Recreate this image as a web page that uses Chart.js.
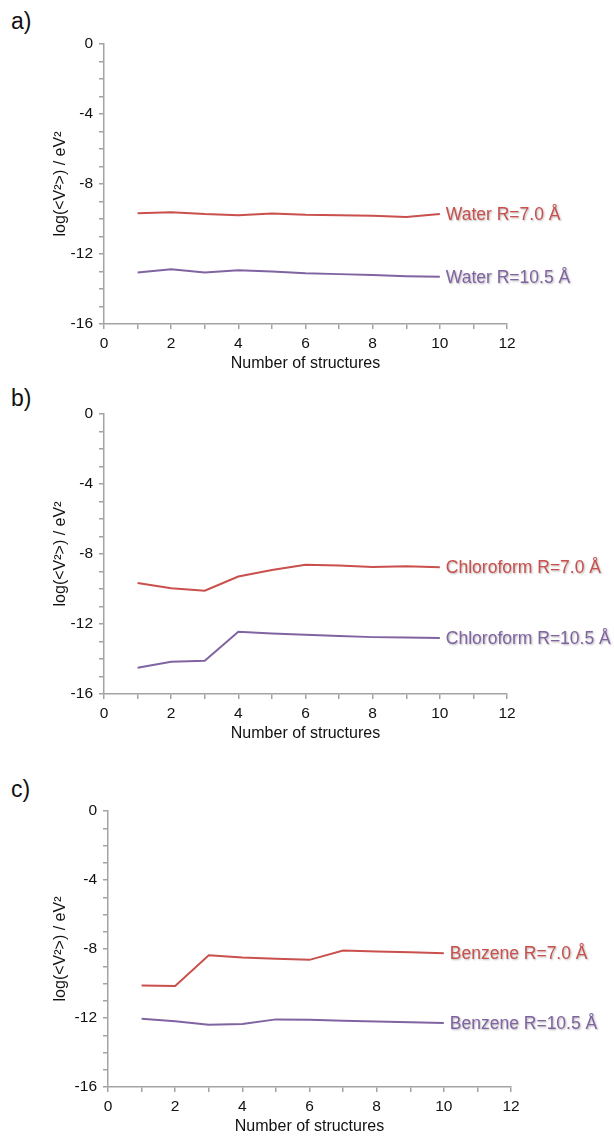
<!DOCTYPE html>
<html>
<head>
<meta charset="utf-8">
<script src="https://cdn.jsdelivr.net/npm/chart.js@4.4.1/dist/chart.umd.min.js"></script>
<style>
    html, body { margin: 0; padding: 0; background: #fff; }
    body { width: 614px; height: 1139px; position: relative; overflow: hidden; font-family: "Liberation Sans", Arial, sans-serif; }
    .panel { position: absolute; left: 0; width: 614px; }
    .tag { position: absolute; left: 11px; font-size: 23px; color: #111; }
</style>
</head>
<body>
<div class="tag" style="top: 8px;">a)</div>
<div class="tag" style="top: 385px;">b)</div>
<div class="tag" style="top: 776px;">c)</div>

<div class="panel" style="top: 0px;"><canvas id="chartA" width="614" height="374"></canvas></div>
<div class="panel" style="top: 374px;"><canvas id="chartB" width="614" height="370"></canvas></div>
<div class="panel" style="top: 744px;"><canvas id="chartC" width="614" height="393"></canvas></div>

<script>
// values
const structures = [1, 2, 3, 4, 5, 6, 7, 8, 9, 10];

const waterR70 = [-9.67, -9.61, -9.72, -9.78, -9.69, -9.76, -9.78, -9.82, -9.89, -9.72];
const waterR105 = [-13.06, -12.87, -13.06, -12.93, -13.0, -13.1, -13.15, -13.2, -13.27, -13.3];

const chloroR70 = [-9.66, -9.96, -10.1, -9.29, -8.91, -8.61, -8.66, -8.74, -8.70, -8.76];
const chloroR105 = [-14.5, -14.16, -14.1, -12.44, -12.54, -12.61, -12.69, -12.75, -12.77, -12.8];

const benzeneR70 = [-10.11, -10.15, -8.36, -8.49, -8.57, -8.63, -8.09, -8.15, -8.19, -8.24];
const benzeneR105 = [-12.04, -12.19, -12.39, -12.35, -12.08, -12.1, -12.16, -12.21, -12.25, -12.29];

const RED = '#C9504C';
const PURPLE = '#8064A2';
const AXIS = '#a3a3a3';
const FONT = '"Liberation Sans", Arial, sans-serif';

// draws the series name just right of the last point
const endLabels = {
    id: 'endLabels',
    afterDatasetsDraw: function (chart) {
        const ctx = chart.ctx;
        ctx.save();
        ctx.font = '17.5px ' + FONT;
        ctx.textBaseline = 'middle';
        ctx.textAlign = 'left';
        chart.data.datasets.forEach((ds, i) => {
            const pts = chart.getDatasetMeta(i).data;
            const last = pts[pts.length - 1];
            ctx.shadowColor = 'rgba(0, 0, 0, 0.3)';
            ctx.shadowOffsetX = 1;
            ctx.shadowOffsetY = 1;
            ctx.shadowBlur = 2;
            ctx.fillStyle = ds.borderColor;
            ctx.fillText(ds.label, last.x + 6, last.y + 1);
        });
        ctx.restore();
    }
};

function series(label, values, color) {
    return {
        label: label,
        data: structures.map((s, i) => ({ x: s, y: values[i] })),
        borderColor: color,
        borderWidth: 2,
        pointRadius: 0,
        tension: 0,
        fill: false
    };
}

function makePanel(canvasId, datasets, box) {
    const ctx = document.getElementById(canvasId);
    return new Chart(ctx, {
        type: 'line',
        data: { datasets: datasets },
        options: {
            responsive: false,
            animation: false,
            devicePixelRatio: 1,
            layout: {
                padding: { top: box.top, right: 614 - box.right, bottom: 0, left: 0 }
            },
            plugins: {
                legend: { display: false },
                tooltip: { enabled: false }
            },
            scales: {
                x: {
                    type: 'linear',
                    min: 0,
                    max: 12,
                    afterFit: s => { s.height = 50; },
                    border: { color: AXIS, width: 1.5 },
                    grid: { drawOnChartArea: false, color: AXIS, tickLength: 5, lineWidth: 1.5 },
                    ticks: {
                        stepSize: 1,
                        autoSkip: false,
                        maxRotation: 0,
                        padding: 5,
                        color: '#111',
                        font: { family: FONT, size: 15.5 },
                        callback: v => (v % 2 === 0 ? String(v) : '')
                    },
                    title: {
                        display: true,
                        text: 'Number of structures',
                        color: '#111',
                        font: { family: FONT, size: 16 },
                        padding: { top: 0, bottom: 1 }
                    }
                },
                y: {
                    min: -16,
                    max: 0,
                    afterFit: s => { s.width = box.left; },
                    border: { color: AXIS, width: 1.5 },
                    grid: { drawOnChartArea: false, color: AXIS, tickLength: 5, lineWidth: 1.5 },
                    ticks: {
                        stepSize: 1,
                        autoSkip: false,
                        padding: 6,
                        color: '#111',
                        font: { family: FONT, size: 15.5 },
                        callback: v => (v % 4 === 0 ? String(v === 0 ? 0 : v) : '')
                    },
                    title: {
                        display: true,
                        text: 'log(<V²>) / eV²',
                        color: '#111',
                        font: { family: FONT, size: 16 },
                        padding: { top: 51, bottom: 0 }
                    }
                }
            }
        },
        plugins: [endLabels]
    });
}

makePanel('chartA', [
    series('Water R=7.0 Å', waterR70, RED),
    series('Water R=10.5 Å', waterR105, PURPLE)
], { top: 44, left: 104, right: 507 });

makePanel('chartB', [
    series('Chloroform R=7.0 Å', chloroR70, RED),
    series('Chloroform R=10.5 Å', chloroR105, PURPLE)
], { top: 40, left: 104, right: 507 });

makePanel('chartC', [
    series('Benzene R=7.0 Å', benzeneR70, RED),
    series('Benzene R=10.5 Å', benzeneR105, PURPLE)
], { top: 67, left: 108, right: 511 });
</script>
</body>
</html>
